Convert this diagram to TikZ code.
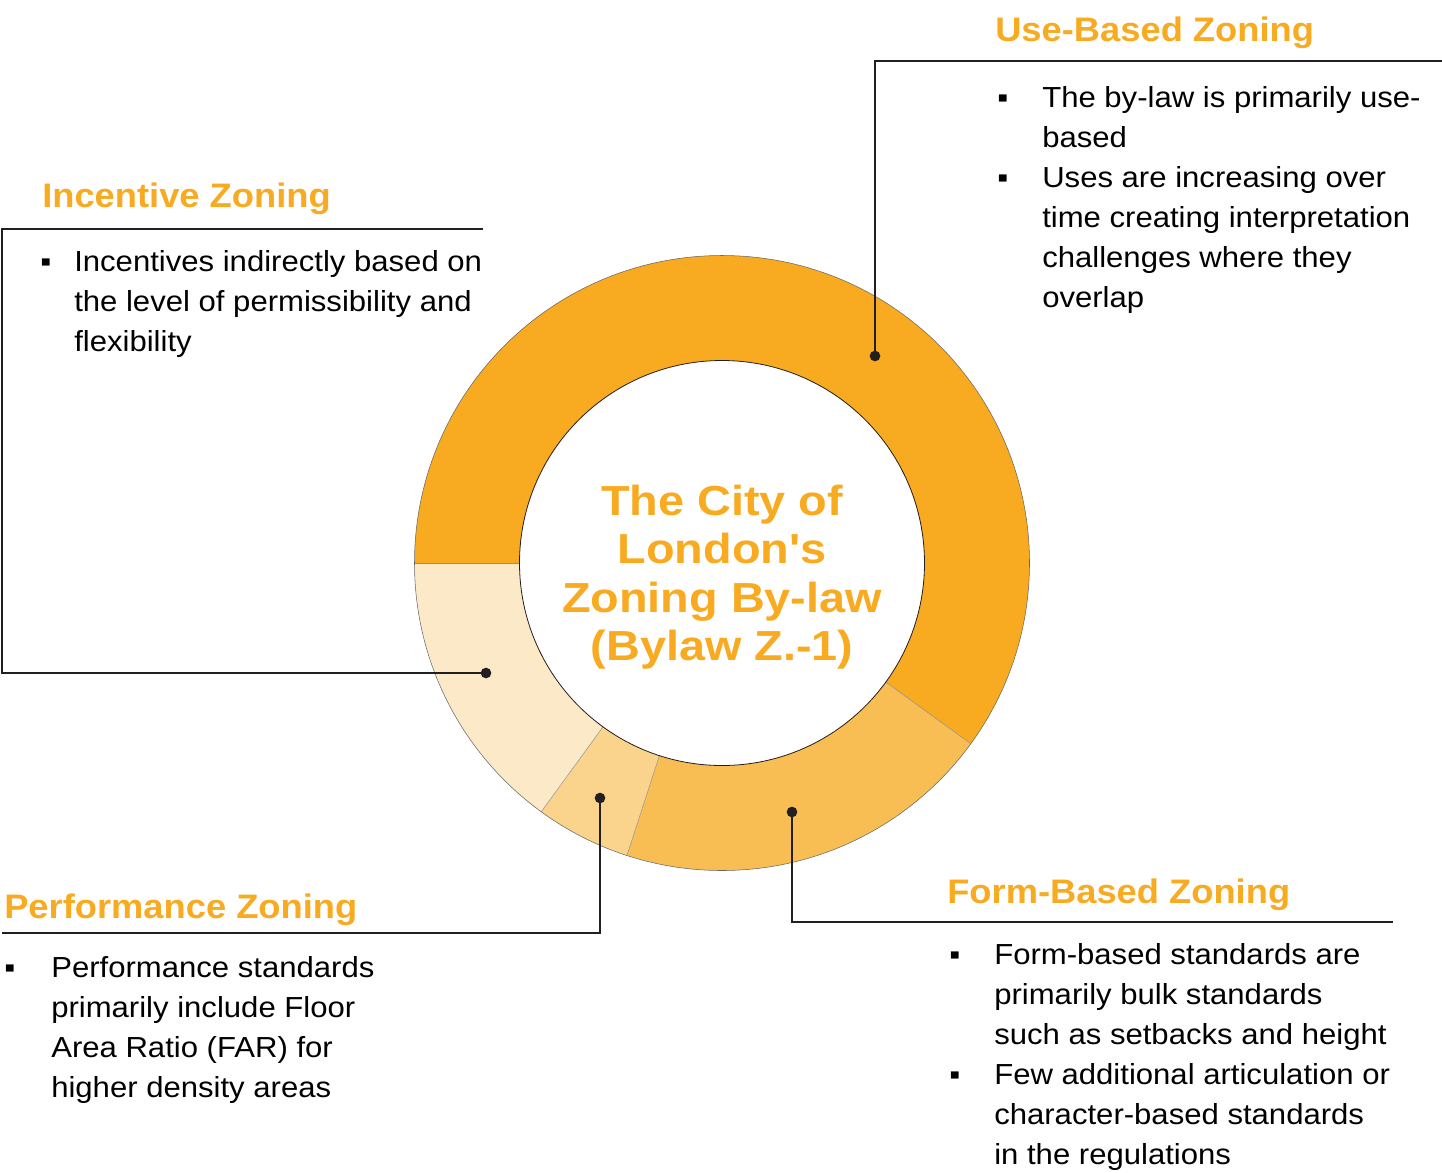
\documentclass[tikz,border=0pt]{standalone}
\usepackage{fontspec}
\setmainfont{Liberation Sans}
\newfontfamily\bodyf[FakeStretch=1.072]{Liberation Sans}
\newfontfamily\headf[FakeStretch=1.068]{Liberation Sans}
\newfontfamily\titlef[FakeStretch=1.115]{Liberation Sans}
\definecolor{zorange}{HTML}{F8AA20}
\definecolor{zform}{HTML}{F9BE53}
\definecolor{zperf}{HTML}{FAD38D}
\definecolor{zinc}{HTML}{FCE9C8}
\definecolor{zdark}{HTML}{231F20}
\begin{document}
\begin{tikzpicture}[x=0.75pt,y=-0.75pt,
  seg/.style={draw=black!45,line width=0.35pt},
  leader/.style={draw=zdark,line width=1.6pt},
  dot/.style={circle,fill=zdark,inner sep=0pt,minimum size=8pt},
  heading/.style={anchor=base west,inner sep=0pt,text=zorange,font=\headf\bfseries\fontsize{25.5}{30}\selectfont},
  body/.style={anchor=north west,inner sep=0pt,align=left,text=black,font=\bodyf\fontsize{21.75}{30}\selectfont},
  bul/.style={anchor=base west,inner sep=0pt,text=black,font=\bodyf\fontsize{21.75}{30}\selectfont},
  title/.style={align=center,inner sep=0pt,text=zorange,font=\titlef\bfseries\fontsize{31.5}{36.4}\selectfont}]
\useasboundingbox (0,0) rectangle (1442,1172);
% donut
\begin{scope}[shift={(722,563)}]
  \fill[zorange] (180:307.5) arc[start angle=180,end angle=396,radius=307.5] -- (396:202.5) arc[start angle=396,end angle=180,radius=202.5] -- cycle;
  \fill[zform] (36:307.5) arc[start angle=36,end angle=108,radius=307.5] -- (108:202.5) arc[start angle=108,end angle=36,radius=202.5] -- cycle;
  \fill[zperf] (108:307.5) arc[start angle=108,end angle=126,radius=307.5] -- (126:202.5) arc[start angle=126,end angle=108,radius=202.5] -- cycle;
  \fill[zinc] (126:307.5) arc[start angle=126,end angle=180,radius=307.5] -- (180:202.5) arc[start angle=180,end angle=126,radius=202.5] -- cycle;
  \draw[seg] (36:202.5) -- (36:307.5);
  \draw[seg] (108:202.5) -- (108:307.5);
  \draw[seg] (126:202.5) -- (126:307.5);
  \draw[seg] (180:202.5) -- (180:307.5);
  \draw[draw=black!60,line width=0.4pt] (0,0) circle[radius=307.5];
  \draw[draw=zdark,line width=0.6pt] (0,0) circle[radius=202.5];
\end{scope}
\node[title] (t) at (722,577) {The City of\\London's\\Zoning By-law\\(Bylaw Z.-1)};
% leaders
\node[dot] (ud) at (875,356) {};
\coordinate (ue) at (1442,61);
\draw[leader] (ud.center) |- (ue);
\node[dot] (id) at (486,673) {};
\coordinate (ic) at (2,673);
\coordinate (ie) at (483,229);
\draw[leader] (id.center) -- (ic) |- (ie);
\node[dot] (pd) at (600,798) {};
\coordinate (pe) at (2,933);
\draw[leader] (pd.center) |- (pe);
\node[dot] (fd) at (792,812) {};
\coordinate (fe) at (1393,922);
\draw[leader] (fd.center) |- (fe);
% headings
\node[heading] (uh) at (995,41) {Use-Based Zoning};
\node[heading] (ih) at (42,207) {Incentive Zoning};
\node[heading] (ph) at (4,918) {Performance Zoning};
\node[heading] (fh) at (947,903) {Form-Based Zoning};
% use-based bullets
\node[bul] (ub1) at (997,107) {▪};
\node[body] (ut1) at (1042,86) {The by-law is primarily use-\\based};
\node[bul] (ub2) at (997,187) {▪};
\node[body] (ut2) at (1042,166) {Uses are increasing over\\time creating interpretation\\challenges where they\\overlap};
% incentive
\node[bul] (ib1) at (40,271) {▪};
\node[body] (it1) at (74,250) {Incentives indirectly based on\\the level of permissibility and\\flexibility};
% performance
\node[bul] (pb1) at (4,977) {▪};
\node[body] (pt1) at (51,956) {Performance standards\\primarily include Floor\\Area Ratio (FAR) for\\higher density areas};
% form-based
\node[bul] (fb1) at (949,964) {▪};
\node[body] (ft1) at (994,943) {Form-based standards are\\primarily bulk standards\\such as setbacks and height};
\node[bul] (fb2) at (949,1084) {▪};
\node[body] (ft2) at (994,1063) {Few additional articulation or\\character-based standards\\in the regulations};
\end{tikzpicture}
\end{document}
